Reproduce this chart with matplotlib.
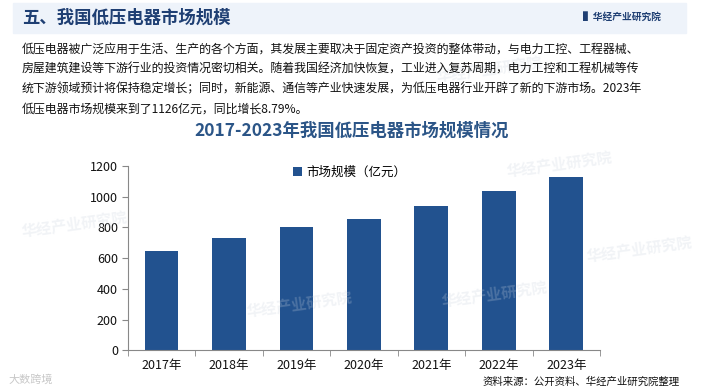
import matplotlib
matplotlib.use('Agg')
import matplotlib.pyplot as plt
from matplotlib.patches import Rectangle

plt.rcParams['font.family'] = ['Noto Sans CJK SC', 'DejaVu Sans']

# data
years = ['2017年', '2018年', '2019年', '2020年', '2021年', '2022年', '2023年']
scale = [647, 731, 803, 855, 940, 1035, 1126]  # 亿元
yticks = [0, 200, 400, 600, 800, 1000, 1200]

header = '五、我国低压电器市场规模'
brand = '华经产业研究院'
para = ['低压电器被广泛应用于生活、生产的各个方面，其发展主要取决于固定资产投资的整体带动，与电力工控、工程器械、',
        '房屋建筑建设等下游行业的投资情况密切相关。随着我国经济加快恢复，工业进入复苏周期，电力工控和工程机械等传',
        '统下游领域预计将保持稳定增长；同时，新能源、通信等产业快速发展，为低压电器行业开辟了新的下游市场。2023年',
        '低压电器市场规模来到了1126亿元，同比增长8.79%。']
chart_title = '2017-2023年我国低压电器市场规模情况'
legend_label = '市场规模（亿元）'
source = '资料来源：公开资料、华经产业研究院整理'

bar_color = '#22528f'
title_color = '#2b5587'

fig = plt.figure(figsize=(7.05, 3.92), dpi=100)

# header band
fig.patches.append(Rectangle((13/705, 1-33/392), (686-13)/705, 30/392,
                             transform=fig.transFigure, color='#eef3fa', zorder=0))
fig.text(22/705, 1-18/392, header, fontsize=12.5, fontweight='bold',
         color='#1f3f73', va='center', ha='left')
fig.text(583/705, 1-17/392, '▌' + brand, fontsize=7, fontweight='bold',
         color='#1f3f73', va='center', ha='left')

# watermarks (faint)
for (wx, wy) in [(435, 70), (505, 165), (20, 225), (245, 305), (585, 250), (440, 295)]:
    fig.text(wx/705, 1-wy/392, brand, fontsize=11, fontweight='bold',
             color='#c9d2de', alpha=0.25, rotation=8, va='center', ha='left')
fig.text(8/705, 1-380/392, '大数跨境', fontsize=8, color='#c8c8c8', va='center')

# paragraph
for i, line in enumerate(para):
    fig.text(22/705, 1-(49 + i*20)/392, line, fontsize=8.6, color='#111111',
             va='center', ha='left')

fig.text(352/705, 1-131/392, chart_title, fontsize=12.5, fontweight='bold',
         color=title_color, va='center', ha='center')

ax = fig.add_axes([127.7/705, 1-350.3/392, (600-127.7)/705, (350.3-166)/392])
x = range(len(years))
ax.bar(x, scale, width=0.5, color=bar_color, label=legend_label, zorder=2)
ax.set_xlim(-0.5, len(years)-0.5)
ax.set_ylim(0, 1200)
ax.set_yticks(yticks)
ax.set_xticks(list(x))
ax.set_xticklabels(years)
ax.set_xticks([i - 0.5 for i in range(len(years)+1)], minor=True)
ax.tick_params(axis='x', which='major', length=0, labelsize=9, pad=6, colors='#111111')
ax.tick_params(axis='x', which='minor', length=4, color='#888888', direction='out')
ax.tick_params(axis='y', length=4, color='#888888', labelsize=9, pad=3, labelcolor='#111111')
for s in ['top', 'right']:
    ax.spines[s].set_visible(False)
for s in ['left', 'bottom']:
    ax.spines[s].set_color('#888888')
ax.patch.set_alpha(0)
ax.legend(loc='upper center', bbox_to_anchor=(0.47, 1.06), frameon=False,
          fontsize=9, handlelength=0.7, handleheight=0.7, handletextpad=0.4)

fig.text(680/705, 1-382/392, source, fontsize=7.5, color='#111111',
         va='center', ha='right')

fig.savefig('out.png', dpi=100)
